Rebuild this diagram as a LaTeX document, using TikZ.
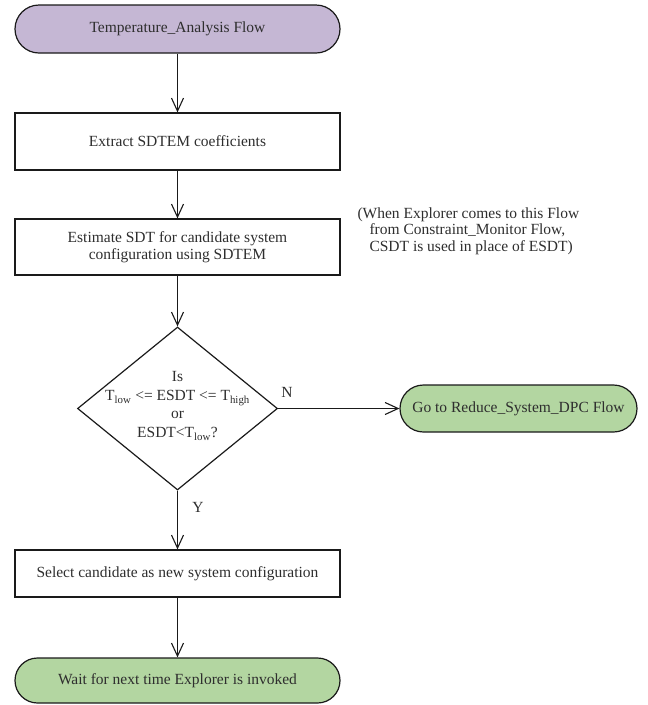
\documentclass[tikz,border=0pt]{standalone}
\usepackage{fontspec}
\setmainfont{Liberation Serif}
\usetikzlibrary{arrows.meta,shapes.geometric}
\definecolor{lav}{HTML}{C5B7D4}
\definecolor{grn}{HTML}{B3D6A1}
\definecolor{txt}{HTML}{2E2E2E}
\definecolor{edge}{HTML}{1A1A1A}
\begin{document}
\begin{tikzpicture}[x=1pt,y=-1pt,
  font=\fontsize{15.5}{18.5}\selectfont, text=txt,
  basebox/.style={draw=edge, line width=1.2pt, minimum width=325pt, inner sep=2pt, align=center},
  procbox/.style={basebox},
  termbox/.style={basebox, rounded corners=#1},
  flowarrow/.style={draw=edge, line width=1.1pt, -{Straight Barb[length=13pt,width=12pt]}}]
\useasboundingbox (0,0) rectangle (648,705);
\node[termbox=24pt, fill=lav, minimum height=48pt] (t) at (177.5,29) {Temperature\_Analysis Flow};
\node[procbox, minimum height=57pt] (e) at (177.5,141.5) {Extract SDTEM coefficients};
\node[procbox, minimum height=56pt, font=\fontsize{15.5}{17}\selectfont] (s) at (177.5,247) {Estimate SDT for candidate system\\configuration using SDTEM};
\node[diamond, draw=edge, line width=1.2pt, minimum width=200pt, minimum height=163pt, inner sep=0pt] (d) at (177.5,408.5) {};
\node[align=center] (dq) at (177.5,406) {Is\\T\textsubscript{low} <= ESDT <= T\textsubscript{high}\\or\\ESDT<T\textsubscript{low}?};
\node[termbox=23.5pt, fill=grn, minimum width=237pt, minimum height=47pt] (r) at (518.5,408.5) {Go to Reduce\_System\_DPC Flow};
\node[procbox, minimum height=47pt] (c) at (177.5,573.5) {Select candidate as new system configuration};
\node[termbox=22.5pt, fill=grn, minimum height=45pt] (w) at (177.5,680.5) {Wait for next time Explorer is invoked};
\node[align=left, anchor=west, font=\fontsize{15.5}{16.5}\selectfont] (note) at (354,231) {(When Explorer comes to this Flow\\\hspace*{12pt}from Constraint\_Monitor Flow,\\\hspace*{12pt}CSDT is used in place of ESDT)};
\node (nl) at (287,392) {N};
\node (yl) at (198,507) {Y};
\draw[flowarrow] (t) -- (e);
\draw[flowarrow] (e) -- (s);
\draw[flowarrow] (s) -- (d.north);
\draw[flowarrow] (d.east) -- (r);
\draw[flowarrow] (d.south) -- (c);
\draw[flowarrow] (c) -- (w);
\end{tikzpicture}
\end{document}
